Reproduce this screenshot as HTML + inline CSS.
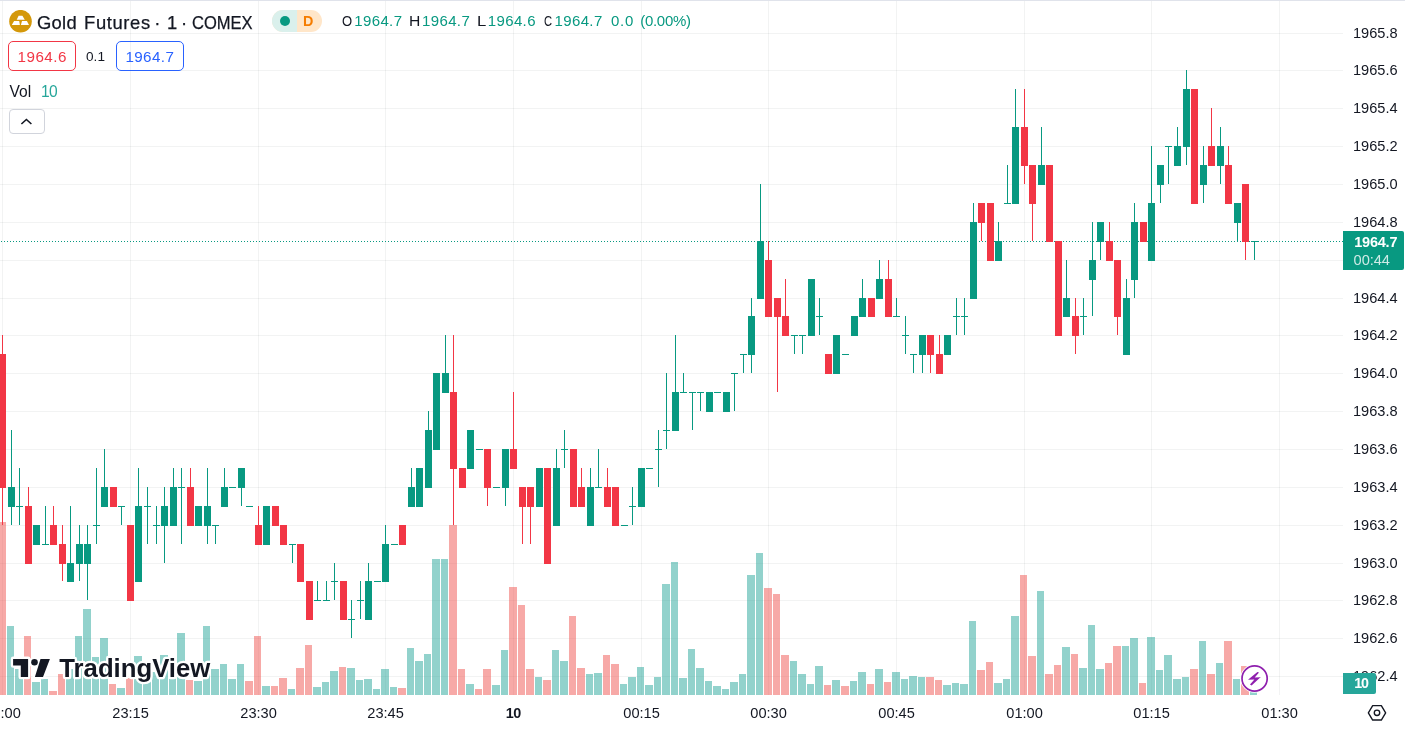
<!DOCTYPE html>
<html><head><meta charset="utf-8"><title>Gold Futures</title>
<style>
html,body{margin:0;padding:0;background:#fff}
body{width:1405px;height:731px;position:relative;overflow:hidden;font-family:"Liberation Sans",sans-serif;color:#131722}
.abs{position:absolute}
.t{position:absolute;white-space:pre}
</style></head><body>
<svg width="1405" height="731" viewBox="0 0 1405 731" style="position:absolute;left:0;top:0" shape-rendering="crispEdges"><g fill="rgba(42,46,57,0.06)"><rect x="2" y="1" width="1" height="694"/><rect x="130" y="1" width="1" height="694"/><rect x="258" y="1" width="1" height="694"/><rect x="385" y="1" width="1" height="694"/><rect x="513" y="1" width="1" height="694"/><rect x="641" y="1" width="1" height="694"/><rect x="768" y="1" width="1" height="694"/><rect x="896" y="1" width="1" height="694"/><rect x="1024" y="1" width="1" height="694"/><rect x="1151" y="1" width="1" height="694"/><rect x="1279" y="1" width="1" height="694"/><rect x="0" y="33" width="1343" height="1"/><rect x="0" y="70" width="1343" height="1"/><rect x="0" y="108" width="1343" height="1"/><rect x="0" y="146" width="1343" height="1"/><rect x="0" y="184" width="1343" height="1"/><rect x="0" y="222" width="1343" height="1"/><rect x="0" y="260" width="1343" height="1"/><rect x="0" y="298" width="1343" height="1"/><rect x="0" y="335" width="1343" height="1"/><rect x="0" y="373" width="1343" height="1"/><rect x="0" y="411" width="1343" height="1"/><rect x="0" y="449" width="1343" height="1"/><rect x="0" y="487" width="1343" height="1"/><rect x="0" y="525" width="1343" height="1"/><rect x="0" y="563" width="1343" height="1"/><rect x="0" y="600" width="1343" height="1"/><rect x="0" y="638" width="1343" height="1"/><rect x="0" y="676" width="1343" height="1"/></g><g fill="rgba(38,166,154,0.5)"><rect x="7" y="626" width="7" height="69"/><rect x="15" y="669" width="8" height="26"/><rect x="32" y="682" width="8" height="13"/><rect x="41" y="679" width="7" height="16"/><rect x="66" y="669" width="8" height="26"/><rect x="75" y="636" width="7" height="59"/><rect x="83" y="609" width="8" height="86"/><rect x="92" y="657" width="7" height="38"/><rect x="100" y="638" width="8" height="57"/><rect x="117" y="688" width="8" height="7"/><rect x="134" y="656" width="8" height="39"/><rect x="143" y="672" width="8" height="23"/><rect x="152" y="672" width="7" height="23"/><rect x="160" y="655" width="8" height="40"/><rect x="169" y="672" width="7" height="23"/><rect x="177" y="633" width="8" height="62"/><rect x="194" y="681" width="8" height="14"/><rect x="203" y="626" width="7" height="69"/><rect x="211" y="669" width="8" height="26"/><rect x="220" y="664" width="7" height="31"/><rect x="228" y="679" width="8" height="16"/><rect x="237" y="664" width="7" height="31"/><rect x="262" y="686" width="8" height="9"/><rect x="288" y="689" width="7" height="6"/><rect x="313" y="687" width="8" height="8"/><rect x="322" y="682" width="7" height="13"/><rect x="330" y="671" width="8" height="24"/><rect x="347" y="668" width="8" height="27"/><rect x="356" y="680" width="7" height="15"/><rect x="364" y="679" width="8" height="16"/><rect x="373" y="689" width="7" height="6"/><rect x="381" y="669" width="8" height="26"/><rect x="390" y="687" width="7" height="8"/><rect x="407" y="648" width="7" height="47"/><rect x="415" y="661" width="8" height="34"/><rect x="424" y="654" width="7" height="41"/><rect x="432" y="559" width="8" height="136"/><rect x="441" y="559" width="7" height="136"/><rect x="466" y="684" width="8" height="11"/><rect x="492" y="685" width="8" height="10"/><rect x="501" y="650" width="7" height="45"/><rect x="535" y="677" width="7" height="18"/><rect x="552" y="650" width="7" height="45"/><rect x="560" y="661" width="8" height="34"/><rect x="586" y="674" width="7" height="21"/><rect x="594" y="673" width="8" height="22"/><rect x="620" y="684" width="7" height="11"/><rect x="628" y="677" width="8" height="18"/><rect x="637" y="667" width="7" height="28"/><rect x="645" y="685" width="8" height="10"/><rect x="654" y="677" width="7" height="18"/><rect x="662" y="584" width="8" height="111"/><rect x="671" y="562" width="7" height="133"/><rect x="679" y="678" width="8" height="17"/><rect x="688" y="649" width="7" height="46"/><rect x="696" y="668" width="8" height="27"/><rect x="705" y="681" width="7" height="14"/><rect x="713" y="686" width="8" height="9"/><rect x="722" y="689" width="7" height="6"/><rect x="730" y="682" width="8" height="13"/><rect x="739" y="674" width="7" height="21"/><rect x="747" y="575" width="8" height="120"/><rect x="756" y="553" width="7" height="142"/><rect x="790" y="661" width="7" height="34"/><rect x="798" y="674" width="8" height="21"/><rect x="807" y="684" width="7" height="11"/><rect x="815" y="666" width="8" height="29"/><rect x="832" y="680" width="8" height="15"/><rect x="850" y="681" width="7" height="14"/><rect x="858" y="672" width="8" height="23"/><rect x="875" y="669" width="8" height="26"/><rect x="892" y="672" width="8" height="23"/><rect x="901" y="679" width="7" height="16"/><rect x="909" y="676" width="8" height="19"/><rect x="918" y="677" width="7" height="18"/><rect x="943" y="685" width="8" height="10"/><rect x="952" y="683" width="7" height="12"/><rect x="960" y="684" width="8" height="11"/><rect x="969" y="621" width="7" height="74"/><rect x="994" y="683" width="8" height="12"/><rect x="1003" y="679" width="7" height="16"/><rect x="1011" y="616" width="8" height="79"/><rect x="1037" y="591" width="7" height="104"/><rect x="1062" y="647" width="8" height="48"/><rect x="1079" y="668" width="8" height="27"/><rect x="1088" y="625" width="7" height="70"/><rect x="1096" y="669" width="8" height="26"/><rect x="1122" y="646" width="7" height="49"/><rect x="1130" y="638" width="8" height="57"/><rect x="1147" y="637" width="8" height="58"/><rect x="1156" y="670" width="7" height="25"/><rect x="1164" y="655" width="8" height="40"/><rect x="1173" y="679" width="8" height="16"/><rect x="1182" y="677" width="7" height="18"/><rect x="1199" y="641" width="7" height="54"/><rect x="1216" y="663" width="7" height="32"/><rect x="1233" y="679" width="7" height="16"/><rect x="1250" y="683" width="7" height="12"/></g><g fill="rgba(239,83,80,0.5)"><rect x="0" y="522" width="6" height="173"/><rect x="24" y="636" width="7" height="59"/><rect x="49" y="691" width="8" height="4"/><rect x="58" y="674" width="7" height="21"/><rect x="109" y="684" width="7" height="11"/><rect x="126" y="678" width="7" height="17"/><rect x="186" y="680" width="7" height="15"/><rect x="245" y="681" width="8" height="14"/><rect x="254" y="636" width="7" height="59"/><rect x="271" y="686" width="7" height="9"/><rect x="279" y="678" width="8" height="17"/><rect x="296" y="668" width="8" height="27"/><rect x="305" y="645" width="7" height="50"/><rect x="339" y="667" width="7" height="28"/><rect x="398" y="688" width="8" height="7"/><rect x="449" y="525" width="8" height="170"/><rect x="458" y="669" width="7" height="26"/><rect x="475" y="689" width="7" height="6"/><rect x="483" y="669" width="8" height="26"/><rect x="509" y="587" width="8" height="108"/><rect x="518" y="605" width="7" height="90"/><rect x="526" y="669" width="8" height="26"/><rect x="543" y="680" width="8" height="15"/><rect x="569" y="616" width="7" height="79"/><rect x="577" y="668" width="8" height="27"/><rect x="603" y="655" width="7" height="40"/><rect x="611" y="664" width="8" height="31"/><rect x="764" y="588" width="8" height="107"/><rect x="773" y="594" width="7" height="101"/><rect x="781" y="655" width="8" height="40"/><rect x="824" y="685" width="7" height="10"/><rect x="841" y="686" width="8" height="9"/><rect x="867" y="684" width="7" height="11"/><rect x="884" y="682" width="7" height="13"/><rect x="926" y="677" width="8" height="18"/><rect x="935" y="680" width="7" height="15"/><rect x="977" y="670" width="8" height="25"/><rect x="986" y="662" width="7" height="33"/><rect x="1020" y="575" width="7" height="120"/><rect x="1028" y="656" width="8" height="39"/><rect x="1045" y="674" width="8" height="21"/><rect x="1054" y="665" width="7" height="30"/><rect x="1071" y="654" width="7" height="41"/><rect x="1105" y="663" width="7" height="32"/><rect x="1113" y="646" width="8" height="49"/><rect x="1139" y="683" width="7" height="12"/><rect x="1190" y="669" width="8" height="26"/><rect x="1207" y="674" width="8" height="21"/><rect x="1224" y="641" width="8" height="54"/><rect x="1241" y="666" width="8" height="29"/></g><g fill="#089981"><rect x="1" y="241" width="1" height="1"/><rect x="4" y="241" width="1" height="1"/><rect x="7" y="241" width="1" height="1"/><rect x="10" y="241" width="1" height="1"/><rect x="13" y="241" width="1" height="1"/><rect x="16" y="241" width="1" height="1"/><rect x="19" y="241" width="1" height="1"/><rect x="22" y="241" width="1" height="1"/><rect x="25" y="241" width="1" height="1"/><rect x="28" y="241" width="1" height="1"/><rect x="31" y="241" width="1" height="1"/><rect x="34" y="241" width="1" height="1"/><rect x="37" y="241" width="1" height="1"/><rect x="40" y="241" width="1" height="1"/><rect x="43" y="241" width="1" height="1"/><rect x="46" y="241" width="1" height="1"/><rect x="49" y="241" width="1" height="1"/><rect x="52" y="241" width="1" height="1"/><rect x="55" y="241" width="1" height="1"/><rect x="58" y="241" width="1" height="1"/><rect x="61" y="241" width="1" height="1"/><rect x="64" y="241" width="1" height="1"/><rect x="67" y="241" width="1" height="1"/><rect x="70" y="241" width="1" height="1"/><rect x="73" y="241" width="1" height="1"/><rect x="76" y="241" width="1" height="1"/><rect x="79" y="241" width="1" height="1"/><rect x="82" y="241" width="1" height="1"/><rect x="85" y="241" width="1" height="1"/><rect x="88" y="241" width="1" height="1"/><rect x="91" y="241" width="1" height="1"/><rect x="94" y="241" width="1" height="1"/><rect x="97" y="241" width="1" height="1"/><rect x="100" y="241" width="1" height="1"/><rect x="103" y="241" width="1" height="1"/><rect x="106" y="241" width="1" height="1"/><rect x="109" y="241" width="1" height="1"/><rect x="112" y="241" width="1" height="1"/><rect x="115" y="241" width="1" height="1"/><rect x="118" y="241" width="1" height="1"/><rect x="121" y="241" width="1" height="1"/><rect x="124" y="241" width="1" height="1"/><rect x="127" y="241" width="1" height="1"/><rect x="130" y="241" width="1" height="1"/><rect x="133" y="241" width="1" height="1"/><rect x="136" y="241" width="1" height="1"/><rect x="139" y="241" width="1" height="1"/><rect x="142" y="241" width="1" height="1"/><rect x="145" y="241" width="1" height="1"/><rect x="148" y="241" width="1" height="1"/><rect x="151" y="241" width="1" height="1"/><rect x="154" y="241" width="1" height="1"/><rect x="157" y="241" width="1" height="1"/><rect x="160" y="241" width="1" height="1"/><rect x="163" y="241" width="1" height="1"/><rect x="166" y="241" width="1" height="1"/><rect x="169" y="241" width="1" height="1"/><rect x="172" y="241" width="1" height="1"/><rect x="175" y="241" width="1" height="1"/><rect x="178" y="241" width="1" height="1"/><rect x="181" y="241" width="1" height="1"/><rect x="184" y="241" width="1" height="1"/><rect x="187" y="241" width="1" height="1"/><rect x="190" y="241" width="1" height="1"/><rect x="193" y="241" width="1" height="1"/><rect x="196" y="241" width="1" height="1"/><rect x="199" y="241" width="1" height="1"/><rect x="202" y="241" width="1" height="1"/><rect x="205" y="241" width="1" height="1"/><rect x="208" y="241" width="1" height="1"/><rect x="211" y="241" width="1" height="1"/><rect x="214" y="241" width="1" height="1"/><rect x="217" y="241" width="1" height="1"/><rect x="220" y="241" width="1" height="1"/><rect x="223" y="241" width="1" height="1"/><rect x="226" y="241" width="1" height="1"/><rect x="229" y="241" width="1" height="1"/><rect x="232" y="241" width="1" height="1"/><rect x="235" y="241" width="1" height="1"/><rect x="238" y="241" width="1" height="1"/><rect x="241" y="241" width="1" height="1"/><rect x="244" y="241" width="1" height="1"/><rect x="247" y="241" width="1" height="1"/><rect x="250" y="241" width="1" height="1"/><rect x="253" y="241" width="1" height="1"/><rect x="256" y="241" width="1" height="1"/><rect x="259" y="241" width="1" height="1"/><rect x="262" y="241" width="1" height="1"/><rect x="265" y="241" width="1" height="1"/><rect x="268" y="241" width="1" height="1"/><rect x="271" y="241" width="1" height="1"/><rect x="274" y="241" width="1" height="1"/><rect x="277" y="241" width="1" height="1"/><rect x="280" y="241" width="1" height="1"/><rect x="283" y="241" width="1" height="1"/><rect x="286" y="241" width="1" height="1"/><rect x="289" y="241" width="1" height="1"/><rect x="292" y="241" width="1" height="1"/><rect x="295" y="241" width="1" height="1"/><rect x="298" y="241" width="1" height="1"/><rect x="301" y="241" width="1" height="1"/><rect x="304" y="241" width="1" height="1"/><rect x="307" y="241" width="1" height="1"/><rect x="310" y="241" width="1" height="1"/><rect x="313" y="241" width="1" height="1"/><rect x="316" y="241" width="1" height="1"/><rect x="319" y="241" width="1" height="1"/><rect x="322" y="241" width="1" height="1"/><rect x="325" y="241" width="1" height="1"/><rect x="328" y="241" width="1" height="1"/><rect x="331" y="241" width="1" height="1"/><rect x="334" y="241" width="1" height="1"/><rect x="337" y="241" width="1" height="1"/><rect x="340" y="241" width="1" height="1"/><rect x="343" y="241" width="1" height="1"/><rect x="346" y="241" width="1" height="1"/><rect x="349" y="241" width="1" height="1"/><rect x="352" y="241" width="1" height="1"/><rect x="355" y="241" width="1" height="1"/><rect x="358" y="241" width="1" height="1"/><rect x="361" y="241" width="1" height="1"/><rect x="364" y="241" width="1" height="1"/><rect x="367" y="241" width="1" height="1"/><rect x="370" y="241" width="1" height="1"/><rect x="373" y="241" width="1" height="1"/><rect x="376" y="241" width="1" height="1"/><rect x="379" y="241" width="1" height="1"/><rect x="382" y="241" width="1" height="1"/><rect x="385" y="241" width="1" height="1"/><rect x="388" y="241" width="1" height="1"/><rect x="391" y="241" width="1" height="1"/><rect x="394" y="241" width="1" height="1"/><rect x="397" y="241" width="1" height="1"/><rect x="400" y="241" width="1" height="1"/><rect x="403" y="241" width="1" height="1"/><rect x="406" y="241" width="1" height="1"/><rect x="409" y="241" width="1" height="1"/><rect x="412" y="241" width="1" height="1"/><rect x="415" y="241" width="1" height="1"/><rect x="418" y="241" width="1" height="1"/><rect x="421" y="241" width="1" height="1"/><rect x="424" y="241" width="1" height="1"/><rect x="427" y="241" width="1" height="1"/><rect x="430" y="241" width="1" height="1"/><rect x="433" y="241" width="1" height="1"/><rect x="436" y="241" width="1" height="1"/><rect x="439" y="241" width="1" height="1"/><rect x="442" y="241" width="1" height="1"/><rect x="445" y="241" width="1" height="1"/><rect x="448" y="241" width="1" height="1"/><rect x="451" y="241" width="1" height="1"/><rect x="454" y="241" width="1" height="1"/><rect x="457" y="241" width="1" height="1"/><rect x="460" y="241" width="1" height="1"/><rect x="463" y="241" width="1" height="1"/><rect x="466" y="241" width="1" height="1"/><rect x="469" y="241" width="1" height="1"/><rect x="472" y="241" width="1" height="1"/><rect x="475" y="241" width="1" height="1"/><rect x="478" y="241" width="1" height="1"/><rect x="481" y="241" width="1" height="1"/><rect x="484" y="241" width="1" height="1"/><rect x="487" y="241" width="1" height="1"/><rect x="490" y="241" width="1" height="1"/><rect x="493" y="241" width="1" height="1"/><rect x="496" y="241" width="1" height="1"/><rect x="499" y="241" width="1" height="1"/><rect x="502" y="241" width="1" height="1"/><rect x="505" y="241" width="1" height="1"/><rect x="508" y="241" width="1" height="1"/><rect x="511" y="241" width="1" height="1"/><rect x="514" y="241" width="1" height="1"/><rect x="517" y="241" width="1" height="1"/><rect x="520" y="241" width="1" height="1"/><rect x="523" y="241" width="1" height="1"/><rect x="526" y="241" width="1" height="1"/><rect x="529" y="241" width="1" height="1"/><rect x="532" y="241" width="1" height="1"/><rect x="535" y="241" width="1" height="1"/><rect x="538" y="241" width="1" height="1"/><rect x="541" y="241" width="1" height="1"/><rect x="544" y="241" width="1" height="1"/><rect x="547" y="241" width="1" height="1"/><rect x="550" y="241" width="1" height="1"/><rect x="553" y="241" width="1" height="1"/><rect x="556" y="241" width="1" height="1"/><rect x="559" y="241" width="1" height="1"/><rect x="562" y="241" width="1" height="1"/><rect x="565" y="241" width="1" height="1"/><rect x="568" y="241" width="1" height="1"/><rect x="571" y="241" width="1" height="1"/><rect x="574" y="241" width="1" height="1"/><rect x="577" y="241" width="1" height="1"/><rect x="580" y="241" width="1" height="1"/><rect x="583" y="241" width="1" height="1"/><rect x="586" y="241" width="1" height="1"/><rect x="589" y="241" width="1" height="1"/><rect x="592" y="241" width="1" height="1"/><rect x="595" y="241" width="1" height="1"/><rect x="598" y="241" width="1" height="1"/><rect x="601" y="241" width="1" height="1"/><rect x="604" y="241" width="1" height="1"/><rect x="607" y="241" width="1" height="1"/><rect x="610" y="241" width="1" height="1"/><rect x="613" y="241" width="1" height="1"/><rect x="616" y="241" width="1" height="1"/><rect x="619" y="241" width="1" height="1"/><rect x="622" y="241" width="1" height="1"/><rect x="625" y="241" width="1" height="1"/><rect x="628" y="241" width="1" height="1"/><rect x="631" y="241" width="1" height="1"/><rect x="634" y="241" width="1" height="1"/><rect x="637" y="241" width="1" height="1"/><rect x="640" y="241" width="1" height="1"/><rect x="643" y="241" width="1" height="1"/><rect x="646" y="241" width="1" height="1"/><rect x="649" y="241" width="1" height="1"/><rect x="652" y="241" width="1" height="1"/><rect x="655" y="241" width="1" height="1"/><rect x="658" y="241" width="1" height="1"/><rect x="661" y="241" width="1" height="1"/><rect x="664" y="241" width="1" height="1"/><rect x="667" y="241" width="1" height="1"/><rect x="670" y="241" width="1" height="1"/><rect x="673" y="241" width="1" height="1"/><rect x="676" y="241" width="1" height="1"/><rect x="679" y="241" width="1" height="1"/><rect x="682" y="241" width="1" height="1"/><rect x="685" y="241" width="1" height="1"/><rect x="688" y="241" width="1" height="1"/><rect x="691" y="241" width="1" height="1"/><rect x="694" y="241" width="1" height="1"/><rect x="697" y="241" width="1" height="1"/><rect x="700" y="241" width="1" height="1"/><rect x="703" y="241" width="1" height="1"/><rect x="706" y="241" width="1" height="1"/><rect x="709" y="241" width="1" height="1"/><rect x="712" y="241" width="1" height="1"/><rect x="715" y="241" width="1" height="1"/><rect x="718" y="241" width="1" height="1"/><rect x="721" y="241" width="1" height="1"/><rect x="724" y="241" width="1" height="1"/><rect x="727" y="241" width="1" height="1"/><rect x="730" y="241" width="1" height="1"/><rect x="733" y="241" width="1" height="1"/><rect x="736" y="241" width="1" height="1"/><rect x="739" y="241" width="1" height="1"/><rect x="742" y="241" width="1" height="1"/><rect x="745" y="241" width="1" height="1"/><rect x="748" y="241" width="1" height="1"/><rect x="751" y="241" width="1" height="1"/><rect x="754" y="241" width="1" height="1"/><rect x="757" y="241" width="1" height="1"/><rect x="760" y="241" width="1" height="1"/><rect x="763" y="241" width="1" height="1"/><rect x="766" y="241" width="1" height="1"/><rect x="769" y="241" width="1" height="1"/><rect x="772" y="241" width="1" height="1"/><rect x="775" y="241" width="1" height="1"/><rect x="778" y="241" width="1" height="1"/><rect x="781" y="241" width="1" height="1"/><rect x="784" y="241" width="1" height="1"/><rect x="787" y="241" width="1" height="1"/><rect x="790" y="241" width="1" height="1"/><rect x="793" y="241" width="1" height="1"/><rect x="796" y="241" width="1" height="1"/><rect x="799" y="241" width="1" height="1"/><rect x="802" y="241" width="1" height="1"/><rect x="805" y="241" width="1" height="1"/><rect x="808" y="241" width="1" height="1"/><rect x="811" y="241" width="1" height="1"/><rect x="814" y="241" width="1" height="1"/><rect x="817" y="241" width="1" height="1"/><rect x="820" y="241" width="1" height="1"/><rect x="823" y="241" width="1" height="1"/><rect x="826" y="241" width="1" height="1"/><rect x="829" y="241" width="1" height="1"/><rect x="832" y="241" width="1" height="1"/><rect x="835" y="241" width="1" height="1"/><rect x="838" y="241" width="1" height="1"/><rect x="841" y="241" width="1" height="1"/><rect x="844" y="241" width="1" height="1"/><rect x="847" y="241" width="1" height="1"/><rect x="850" y="241" width="1" height="1"/><rect x="853" y="241" width="1" height="1"/><rect x="856" y="241" width="1" height="1"/><rect x="859" y="241" width="1" height="1"/><rect x="862" y="241" width="1" height="1"/><rect x="865" y="241" width="1" height="1"/><rect x="868" y="241" width="1" height="1"/><rect x="871" y="241" width="1" height="1"/><rect x="874" y="241" width="1" height="1"/><rect x="877" y="241" width="1" height="1"/><rect x="880" y="241" width="1" height="1"/><rect x="883" y="241" width="1" height="1"/><rect x="886" y="241" width="1" height="1"/><rect x="889" y="241" width="1" height="1"/><rect x="892" y="241" width="1" height="1"/><rect x="895" y="241" width="1" height="1"/><rect x="898" y="241" width="1" height="1"/><rect x="901" y="241" width="1" height="1"/><rect x="904" y="241" width="1" height="1"/><rect x="907" y="241" width="1" height="1"/><rect x="910" y="241" width="1" height="1"/><rect x="913" y="241" width="1" height="1"/><rect x="916" y="241" width="1" height="1"/><rect x="919" y="241" width="1" height="1"/><rect x="922" y="241" width="1" height="1"/><rect x="925" y="241" width="1" height="1"/><rect x="928" y="241" width="1" height="1"/><rect x="931" y="241" width="1" height="1"/><rect x="934" y="241" width="1" height="1"/><rect x="937" y="241" width="1" height="1"/><rect x="940" y="241" width="1" height="1"/><rect x="943" y="241" width="1" height="1"/><rect x="946" y="241" width="1" height="1"/><rect x="949" y="241" width="1" height="1"/><rect x="952" y="241" width="1" height="1"/><rect x="955" y="241" width="1" height="1"/><rect x="958" y="241" width="1" height="1"/><rect x="961" y="241" width="1" height="1"/><rect x="964" y="241" width="1" height="1"/><rect x="967" y="241" width="1" height="1"/><rect x="970" y="241" width="1" height="1"/><rect x="973" y="241" width="1" height="1"/><rect x="976" y="241" width="1" height="1"/><rect x="979" y="241" width="1" height="1"/><rect x="982" y="241" width="1" height="1"/><rect x="985" y="241" width="1" height="1"/><rect x="988" y="241" width="1" height="1"/><rect x="991" y="241" width="1" height="1"/><rect x="994" y="241" width="1" height="1"/><rect x="997" y="241" width="1" height="1"/><rect x="1000" y="241" width="1" height="1"/><rect x="1003" y="241" width="1" height="1"/><rect x="1006" y="241" width="1" height="1"/><rect x="1009" y="241" width="1" height="1"/><rect x="1012" y="241" width="1" height="1"/><rect x="1015" y="241" width="1" height="1"/><rect x="1018" y="241" width="1" height="1"/><rect x="1021" y="241" width="1" height="1"/><rect x="1024" y="241" width="1" height="1"/><rect x="1027" y="241" width="1" height="1"/><rect x="1030" y="241" width="1" height="1"/><rect x="1033" y="241" width="1" height="1"/><rect x="1036" y="241" width="1" height="1"/><rect x="1039" y="241" width="1" height="1"/><rect x="1042" y="241" width="1" height="1"/><rect x="1045" y="241" width="1" height="1"/><rect x="1048" y="241" width="1" height="1"/><rect x="1051" y="241" width="1" height="1"/><rect x="1054" y="241" width="1" height="1"/><rect x="1057" y="241" width="1" height="1"/><rect x="1060" y="241" width="1" height="1"/><rect x="1063" y="241" width="1" height="1"/><rect x="1066" y="241" width="1" height="1"/><rect x="1069" y="241" width="1" height="1"/><rect x="1072" y="241" width="1" height="1"/><rect x="1075" y="241" width="1" height="1"/><rect x="1078" y="241" width="1" height="1"/><rect x="1081" y="241" width="1" height="1"/><rect x="1084" y="241" width="1" height="1"/><rect x="1087" y="241" width="1" height="1"/><rect x="1090" y="241" width="1" height="1"/><rect x="1093" y="241" width="1" height="1"/><rect x="1096" y="241" width="1" height="1"/><rect x="1099" y="241" width="1" height="1"/><rect x="1102" y="241" width="1" height="1"/><rect x="1105" y="241" width="1" height="1"/><rect x="1108" y="241" width="1" height="1"/><rect x="1111" y="241" width="1" height="1"/><rect x="1114" y="241" width="1" height="1"/><rect x="1117" y="241" width="1" height="1"/><rect x="1120" y="241" width="1" height="1"/><rect x="1123" y="241" width="1" height="1"/><rect x="1126" y="241" width="1" height="1"/><rect x="1129" y="241" width="1" height="1"/><rect x="1132" y="241" width="1" height="1"/><rect x="1135" y="241" width="1" height="1"/><rect x="1138" y="241" width="1" height="1"/><rect x="1141" y="241" width="1" height="1"/><rect x="1144" y="241" width="1" height="1"/><rect x="1147" y="241" width="1" height="1"/><rect x="1150" y="241" width="1" height="1"/><rect x="1153" y="241" width="1" height="1"/><rect x="1156" y="241" width="1" height="1"/><rect x="1159" y="241" width="1" height="1"/><rect x="1162" y="241" width="1" height="1"/><rect x="1165" y="241" width="1" height="1"/><rect x="1168" y="241" width="1" height="1"/><rect x="1171" y="241" width="1" height="1"/><rect x="1174" y="241" width="1" height="1"/><rect x="1177" y="241" width="1" height="1"/><rect x="1180" y="241" width="1" height="1"/><rect x="1183" y="241" width="1" height="1"/><rect x="1186" y="241" width="1" height="1"/><rect x="1189" y="241" width="1" height="1"/><rect x="1192" y="241" width="1" height="1"/><rect x="1195" y="241" width="1" height="1"/><rect x="1198" y="241" width="1" height="1"/><rect x="1201" y="241" width="1" height="1"/><rect x="1204" y="241" width="1" height="1"/><rect x="1207" y="241" width="1" height="1"/><rect x="1210" y="241" width="1" height="1"/><rect x="1213" y="241" width="1" height="1"/><rect x="1216" y="241" width="1" height="1"/><rect x="1219" y="241" width="1" height="1"/><rect x="1222" y="241" width="1" height="1"/><rect x="1225" y="241" width="1" height="1"/><rect x="1228" y="241" width="1" height="1"/><rect x="1231" y="241" width="1" height="1"/><rect x="1234" y="241" width="1" height="1"/><rect x="1237" y="241" width="1" height="1"/><rect x="1240" y="241" width="1" height="1"/><rect x="1243" y="241" width="1" height="1"/><rect x="1246" y="241" width="1" height="1"/><rect x="1249" y="241" width="1" height="1"/><rect x="1252" y="241" width="1" height="1"/><rect x="1255" y="241" width="1" height="1"/><rect x="1258" y="241" width="1" height="1"/><rect x="1261" y="241" width="1" height="1"/><rect x="1264" y="241" width="1" height="1"/><rect x="1267" y="241" width="1" height="1"/><rect x="1270" y="241" width="1" height="1"/><rect x="1273" y="241" width="1" height="1"/><rect x="1276" y="241" width="1" height="1"/><rect x="1279" y="241" width="1" height="1"/><rect x="1282" y="241" width="1" height="1"/><rect x="1285" y="241" width="1" height="1"/><rect x="1288" y="241" width="1" height="1"/><rect x="1291" y="241" width="1" height="1"/><rect x="1294" y="241" width="1" height="1"/><rect x="1297" y="241" width="1" height="1"/><rect x="1300" y="241" width="1" height="1"/><rect x="1303" y="241" width="1" height="1"/><rect x="1306" y="241" width="1" height="1"/><rect x="1309" y="241" width="1" height="1"/><rect x="1312" y="241" width="1" height="1"/><rect x="1315" y="241" width="1" height="1"/><rect x="1318" y="241" width="1" height="1"/><rect x="1321" y="241" width="1" height="1"/><rect x="1324" y="241" width="1" height="1"/><rect x="1327" y="241" width="1" height="1"/><rect x="1330" y="241" width="1" height="1"/><rect x="1333" y="241" width="1" height="1"/><rect x="1336" y="241" width="1" height="1"/><rect x="1339" y="241" width="1" height="1"/><rect x="1342" y="241" width="1" height="1"/></g><g fill="#089981"><rect x="11" y="430" width="1" height="95"/><rect x="8" y="487" width="7" height="20"/><rect x="19" y="468" width="1" height="57"/><rect x="16" y="506" width="7" height="1"/><rect x="36" y="525" width="1" height="19"/><rect x="33" y="525" width="7" height="20"/><rect x="45" y="506" width="1" height="38"/><rect x="42" y="544" width="7" height="1"/><rect x="70" y="506" width="1" height="75"/><rect x="67" y="563" width="7" height="19"/><rect x="79" y="525" width="1" height="56"/><rect x="76" y="544" width="7" height="20"/><rect x="87" y="525" width="1" height="75"/><rect x="84" y="544" width="7" height="20"/><rect x="96" y="468" width="1" height="76"/><rect x="93" y="525" width="7" height="1"/><rect x="104" y="449" width="1" height="57"/><rect x="101" y="487" width="7" height="20"/><rect x="121" y="506" width="1" height="19"/><rect x="118" y="506" width="7" height="1"/><rect x="138" y="468" width="1" height="113"/><rect x="135" y="506" width="7" height="76"/><rect x="147" y="487" width="1" height="57"/><rect x="144" y="506" width="7" height="1"/><rect x="156" y="506" width="1" height="38"/><rect x="153" y="525" width="7" height="1"/><rect x="164" y="487" width="1" height="76"/><rect x="161" y="506" width="7" height="20"/><rect x="173" y="468" width="1" height="57"/><rect x="170" y="487" width="7" height="39"/><rect x="181" y="468" width="1" height="76"/><rect x="178" y="487" width="7" height="1"/><rect x="198" y="506" width="1" height="19"/><rect x="195" y="506" width="7" height="20"/><rect x="207" y="468" width="1" height="76"/><rect x="204" y="506" width="7" height="20"/><rect x="215" y="525" width="1" height="19"/><rect x="212" y="525" width="7" height="1"/><rect x="224" y="468" width="1" height="38"/><rect x="221" y="487" width="7" height="20"/><rect x="229" y="487" width="7" height="1"/><rect x="241" y="468" width="1" height="38"/><rect x="238" y="468" width="7" height="20"/><rect x="246" y="506" width="7" height="1"/><rect x="266" y="506" width="1" height="38"/><rect x="263" y="506" width="7" height="39"/><rect x="292" y="544" width="1" height="19"/><rect x="289" y="544" width="7" height="1"/><rect x="317" y="581" width="1" height="19"/><rect x="314" y="600" width="7" height="1"/><rect x="326" y="581" width="1" height="19"/><rect x="323" y="600" width="7" height="1"/><rect x="334" y="563" width="1" height="37"/><rect x="331" y="581" width="7" height="1"/><rect x="351" y="600" width="1" height="38"/><rect x="348" y="619" width="7" height="1"/><rect x="360" y="581" width="1" height="38"/><rect x="357" y="600" width="7" height="1"/><rect x="368" y="563" width="1" height="56"/><rect x="365" y="581" width="7" height="39"/><rect x="374" y="581" width="7" height="1"/><rect x="385" y="525" width="1" height="56"/><rect x="382" y="544" width="7" height="38"/><rect x="391" y="544" width="7" height="1"/><rect x="411" y="468" width="1" height="38"/><rect x="408" y="487" width="7" height="20"/><rect x="419" y="468" width="1" height="38"/><rect x="416" y="468" width="7" height="39"/><rect x="428" y="411" width="1" height="76"/><rect x="425" y="430" width="7" height="58"/><rect x="436" y="373" width="1" height="76"/><rect x="433" y="373" width="7" height="77"/><rect x="445" y="335" width="1" height="57"/><rect x="442" y="373" width="7" height="20"/><rect x="470" y="430" width="1" height="38"/><rect x="467" y="430" width="7" height="39"/><rect x="476" y="449" width="7" height="1"/><rect x="493" y="487" width="7" height="1"/><rect x="505" y="449" width="1" height="57"/><rect x="502" y="449" width="7" height="39"/><rect x="539" y="468" width="1" height="38"/><rect x="536" y="468" width="7" height="39"/><rect x="556" y="449" width="1" height="76"/><rect x="553" y="468" width="7" height="58"/><rect x="564" y="430" width="1" height="38"/><rect x="561" y="449" width="7" height="1"/><rect x="590" y="468" width="1" height="57"/><rect x="587" y="487" width="7" height="39"/><rect x="598" y="449" width="1" height="38"/><rect x="595" y="487" width="7" height="1"/><rect x="621" y="525" width="7" height="1"/><rect x="632" y="487" width="1" height="38"/><rect x="629" y="506" width="7" height="1"/><rect x="641" y="468" width="1" height="38"/><rect x="638" y="468" width="7" height="39"/><rect x="646" y="468" width="7" height="1"/><rect x="658" y="430" width="1" height="57"/><rect x="655" y="449" width="7" height="1"/><rect x="666" y="373" width="1" height="76"/><rect x="663" y="430" width="7" height="1"/><rect x="675" y="335" width="1" height="95"/><rect x="672" y="392" width="7" height="39"/><rect x="683" y="373" width="1" height="19"/><rect x="680" y="392" width="7" height="1"/><rect x="692" y="392" width="1" height="38"/><rect x="689" y="392" width="7" height="1"/><rect x="700" y="392" width="1" height="19"/><rect x="697" y="392" width="7" height="1"/><rect x="709" y="392" width="1" height="19"/><rect x="706" y="392" width="7" height="20"/><rect x="714" y="392" width="7" height="1"/><rect x="726" y="392" width="1" height="19"/><rect x="723" y="392" width="7" height="20"/><rect x="734" y="373" width="1" height="38"/><rect x="731" y="373" width="7" height="1"/><rect x="743" y="354" width="1" height="19"/><rect x="740" y="354" width="7" height="1"/><rect x="751" y="298" width="1" height="75"/><rect x="748" y="316" width="7" height="39"/><rect x="760" y="184" width="1" height="114"/><rect x="757" y="241" width="7" height="58"/><rect x="794" y="335" width="1" height="19"/><rect x="791" y="335" width="7" height="1"/><rect x="802" y="335" width="1" height="19"/><rect x="799" y="335" width="7" height="1"/><rect x="811" y="279" width="1" height="56"/><rect x="808" y="279" width="7" height="57"/><rect x="819" y="298" width="1" height="37"/><rect x="816" y="316" width="7" height="1"/><rect x="836" y="335" width="1" height="38"/><rect x="833" y="335" width="7" height="39"/><rect x="842" y="354" width="7" height="1"/><rect x="854" y="316" width="1" height="19"/><rect x="851" y="316" width="7" height="20"/><rect x="862" y="279" width="1" height="37"/><rect x="859" y="298" width="7" height="19"/><rect x="879" y="260" width="1" height="38"/><rect x="876" y="279" width="7" height="20"/><rect x="896" y="298" width="1" height="18"/><rect x="893" y="316" width="7" height="1"/><rect x="905" y="316" width="1" height="38"/><rect x="902" y="335" width="7" height="1"/><rect x="913" y="354" width="1" height="19"/><rect x="910" y="354" width="7" height="1"/><rect x="922" y="335" width="1" height="38"/><rect x="919" y="335" width="7" height="20"/><rect x="947" y="335" width="1" height="19"/><rect x="944" y="335" width="7" height="20"/><rect x="956" y="298" width="1" height="37"/><rect x="953" y="316" width="7" height="1"/><rect x="964" y="298" width="1" height="37"/><rect x="961" y="316" width="7" height="1"/><rect x="973" y="203" width="1" height="95"/><rect x="970" y="222" width="7" height="77"/><rect x="998" y="222" width="1" height="38"/><rect x="995" y="241" width="7" height="20"/><rect x="1007" y="165" width="1" height="38"/><rect x="1004" y="203" width="7" height="1"/><rect x="1015" y="89" width="1" height="114"/><rect x="1012" y="127" width="7" height="77"/><rect x="1041" y="127" width="1" height="57"/><rect x="1038" y="165" width="7" height="20"/><rect x="1066" y="260" width="1" height="56"/><rect x="1063" y="298" width="7" height="19"/><rect x="1083" y="298" width="1" height="37"/><rect x="1080" y="316" width="7" height="1"/><rect x="1092" y="222" width="1" height="94"/><rect x="1089" y="260" width="7" height="20"/><rect x="1100" y="222" width="1" height="38"/><rect x="1097" y="222" width="7" height="20"/><rect x="1126" y="279" width="1" height="75"/><rect x="1123" y="298" width="7" height="57"/><rect x="1134" y="203" width="1" height="95"/><rect x="1131" y="222" width="7" height="58"/><rect x="1151" y="146" width="1" height="114"/><rect x="1148" y="203" width="7" height="58"/><rect x="1160" y="165" width="1" height="38"/><rect x="1157" y="165" width="7" height="20"/><rect x="1168" y="146" width="1" height="38"/><rect x="1165" y="146" width="7" height="1"/><rect x="1177" y="127" width="1" height="38"/><rect x="1174" y="146" width="7" height="20"/><rect x="1186" y="70" width="1" height="95"/><rect x="1183" y="89" width="7" height="58"/><rect x="1203" y="146" width="1" height="57"/><rect x="1200" y="165" width="7" height="20"/><rect x="1220" y="127" width="1" height="57"/><rect x="1217" y="146" width="7" height="20"/><rect x="1237" y="203" width="1" height="38"/><rect x="1234" y="203" width="7" height="20"/><rect x="1254" y="241" width="1" height="19"/><rect x="1251" y="241" width="7" height="1"/></g><g fill="#f23645"><rect x="2" y="335" width="1" height="190"/><rect x="-1" y="354" width="7" height="134"/><rect x="28" y="487" width="1" height="76"/><rect x="25" y="506" width="7" height="58"/><rect x="53" y="506" width="1" height="38"/><rect x="50" y="525" width="7" height="20"/><rect x="62" y="525" width="1" height="56"/><rect x="59" y="544" width="7" height="20"/><rect x="113" y="487" width="1" height="19"/><rect x="110" y="487" width="7" height="20"/><rect x="130" y="525" width="1" height="75"/><rect x="127" y="525" width="7" height="76"/><rect x="190" y="468" width="1" height="57"/><rect x="187" y="487" width="7" height="39"/><rect x="258" y="506" width="1" height="38"/><rect x="255" y="525" width="7" height="20"/><rect x="275" y="506" width="1" height="19"/><rect x="272" y="506" width="7" height="20"/><rect x="283" y="525" width="1" height="19"/><rect x="280" y="525" width="7" height="20"/><rect x="300" y="544" width="1" height="37"/><rect x="297" y="544" width="7" height="38"/><rect x="309" y="581" width="1" height="38"/><rect x="306" y="581" width="7" height="39"/><rect x="343" y="581" width="1" height="38"/><rect x="340" y="581" width="7" height="39"/><rect x="402" y="525" width="1" height="19"/><rect x="399" y="525" width="7" height="20"/><rect x="453" y="335" width="1" height="190"/><rect x="450" y="392" width="7" height="77"/><rect x="462" y="468" width="1" height="19"/><rect x="459" y="468" width="7" height="20"/><rect x="487" y="449" width="1" height="57"/><rect x="484" y="449" width="7" height="39"/><rect x="513" y="392" width="1" height="76"/><rect x="510" y="449" width="7" height="20"/><rect x="522" y="487" width="1" height="57"/><rect x="519" y="487" width="7" height="20"/><rect x="530" y="487" width="1" height="57"/><rect x="527" y="487" width="7" height="20"/><rect x="547" y="468" width="1" height="95"/><rect x="544" y="468" width="7" height="96"/><rect x="573" y="449" width="1" height="57"/><rect x="570" y="449" width="7" height="58"/><rect x="581" y="468" width="1" height="38"/><rect x="578" y="487" width="7" height="20"/><rect x="607" y="468" width="1" height="38"/><rect x="604" y="487" width="7" height="20"/><rect x="615" y="487" width="1" height="38"/><rect x="612" y="487" width="7" height="39"/><rect x="768" y="241" width="1" height="75"/><rect x="765" y="260" width="7" height="57"/><rect x="777" y="298" width="1" height="94"/><rect x="774" y="298" width="7" height="19"/><rect x="785" y="279" width="1" height="56"/><rect x="782" y="316" width="7" height="20"/><rect x="828" y="354" width="1" height="19"/><rect x="825" y="354" width="7" height="20"/><rect x="871" y="298" width="1" height="18"/><rect x="868" y="298" width="7" height="19"/><rect x="888" y="260" width="1" height="56"/><rect x="885" y="279" width="7" height="38"/><rect x="930" y="335" width="1" height="38"/><rect x="927" y="335" width="7" height="20"/><rect x="939" y="335" width="1" height="38"/><rect x="936" y="354" width="7" height="20"/><rect x="981" y="203" width="1" height="38"/><rect x="978" y="203" width="7" height="20"/><rect x="990" y="203" width="1" height="57"/><rect x="987" y="203" width="7" height="58"/><rect x="1024" y="89" width="1" height="95"/><rect x="1021" y="127" width="7" height="39"/><rect x="1032" y="165" width="1" height="76"/><rect x="1029" y="165" width="7" height="39"/><rect x="1049" y="165" width="1" height="76"/><rect x="1046" y="165" width="7" height="77"/><rect x="1058" y="241" width="1" height="94"/><rect x="1055" y="241" width="7" height="95"/><rect x="1075" y="298" width="1" height="56"/><rect x="1072" y="316" width="7" height="20"/><rect x="1109" y="222" width="1" height="38"/><rect x="1106" y="241" width="7" height="20"/><rect x="1117" y="260" width="1" height="75"/><rect x="1114" y="260" width="7" height="57"/><rect x="1143" y="222" width="1" height="19"/><rect x="1140" y="222" width="7" height="20"/><rect x="1194" y="89" width="1" height="114"/><rect x="1191" y="89" width="7" height="115"/><rect x="1211" y="108" width="1" height="57"/><rect x="1208" y="146" width="7" height="20"/><rect x="1228" y="146" width="1" height="57"/><rect x="1225" y="165" width="7" height="39"/><rect x="1245" y="184" width="1" height="76"/><rect x="1242" y="184" width="7" height="58"/></g></svg>
<div class="abs" style="left:0;top:0;width:1405px;height:1px;background:#e0e3eb"></div>
<div class="t" style="left:1353.23px;top:22px;font-size:15.1px;line-height:21px;height:21px;transform:scaleX(0.9671);transform-origin:0 0">1965.8</div><div class="t" style="left:1353.23px;top:59px;font-size:15.1px;line-height:21px;height:21px;transform:scaleX(0.9671);transform-origin:0 0">1965.6</div><div class="t" style="left:1353.23px;top:97px;font-size:15.1px;line-height:21px;height:21px;transform:scaleX(0.9671);transform-origin:0 0">1965.4</div><div class="t" style="left:1353.23px;top:135px;font-size:15.1px;line-height:21px;height:21px;transform:scaleX(0.9671);transform-origin:0 0">1965.2</div><div class="t" style="left:1353.23px;top:173px;font-size:15.1px;line-height:21px;height:21px;transform:scaleX(0.9671);transform-origin:0 0">1965.0</div><div class="t" style="left:1353.23px;top:211px;font-size:15.1px;line-height:21px;height:21px;transform:scaleX(0.9671);transform-origin:0 0">1964.8</div><div class="t" style="left:1353.23px;top:249px;font-size:15.1px;line-height:21px;height:21px;transform:scaleX(0.9671);transform-origin:0 0">1964.6</div><div class="t" style="left:1353.23px;top:287px;font-size:15.1px;line-height:21px;height:21px;transform:scaleX(0.9671);transform-origin:0 0">1964.4</div><div class="t" style="left:1353.23px;top:324px;font-size:15.1px;line-height:21px;height:21px;transform:scaleX(0.9671);transform-origin:0 0">1964.2</div><div class="t" style="left:1353.23px;top:362px;font-size:15.1px;line-height:21px;height:21px;transform:scaleX(0.9671);transform-origin:0 0">1964.0</div><div class="t" style="left:1353.23px;top:400px;font-size:15.1px;line-height:21px;height:21px;transform:scaleX(0.9671);transform-origin:0 0">1963.8</div><div class="t" style="left:1353.23px;top:438px;font-size:15.1px;line-height:21px;height:21px;transform:scaleX(0.9671);transform-origin:0 0">1963.6</div><div class="t" style="left:1353.23px;top:476px;font-size:15.1px;line-height:21px;height:21px;transform:scaleX(0.9671);transform-origin:0 0">1963.4</div><div class="t" style="left:1353.23px;top:514px;font-size:15.1px;line-height:21px;height:21px;transform:scaleX(0.9671);transform-origin:0 0">1963.2</div><div class="t" style="left:1353.23px;top:552px;font-size:15.1px;line-height:21px;height:21px;transform:scaleX(0.9671);transform-origin:0 0">1963.0</div><div class="t" style="left:1353.23px;top:589px;font-size:15.1px;line-height:21px;height:21px;transform:scaleX(0.9671);transform-origin:0 0">1962.8</div><div class="t" style="left:1353.23px;top:627px;font-size:15.1px;line-height:21px;height:21px;transform:scaleX(0.9671);transform-origin:0 0">1962.6</div><div class="t" style="left:1353.23px;top:665px;font-size:15.1px;line-height:21px;height:21px;transform:scaleX(0.9671);transform-origin:0 0">1962.4</div><div class="t" style="left:-15.70px;top:703px;font-size:14.6px;line-height:20px;height:20px;letter-spacing:-0.001px">23:00</div><div class="t" style="left:112.30px;top:703px;font-size:14.6px;line-height:20px;height:20px;letter-spacing:-0.001px">23:15</div><div class="t" style="left:240.30px;top:703px;font-size:14.6px;line-height:20px;height:20px;letter-spacing:-0.001px">23:30</div><div class="t" style="left:367.30px;top:703px;font-size:14.6px;line-height:20px;height:20px;letter-spacing:-0.001px">23:45</div><div class="t" style="left:505.80px;top:703px;font-size:14.4px;line-height:20px;height:20px;letter-spacing:-0.603px;font-weight:700">10</div><div class="t" style="left:623.30px;top:703px;font-size:14.6px;line-height:20px;height:20px;letter-spacing:-0.001px">00:15</div><div class="t" style="left:750.30px;top:703px;font-size:14.6px;line-height:20px;height:20px;letter-spacing:-0.001px">00:30</div><div class="t" style="left:878.30px;top:703px;font-size:14.6px;line-height:20px;height:20px;letter-spacing:-0.001px">00:45</div><div class="t" style="left:1006.30px;top:703px;font-size:14.6px;line-height:20px;height:20px;letter-spacing:-0.001px">01:00</div><div class="t" style="left:1133.30px;top:703px;font-size:14.6px;line-height:20px;height:20px;letter-spacing:-0.001px">01:15</div><div class="t" style="left:1261.30px;top:703px;font-size:14.6px;line-height:20px;height:20px;letter-spacing:-0.001px">01:30</div>
<!-- price label + volume label boxes -->
<div class="abs" style="left:1343px;top:231px;width:61px;height:39px;background:#089981;border-radius:0 2px 2px 0"></div>
<div class="abs" style="left:1343px;top:673px;width:33px;height:21px;background:#26a69a;border-radius:0 2px 2px 0"></div>
<!-- symbol logo -->
<svg class="abs" style="left:9px;top:10px" width="23" height="23" viewBox="0 0 23 23"><circle cx="11.5" cy="11.2" r="11.3" fill="#d4980a"/><path d="M9.6 5.8h3.8l2.4 4H7.7zM5.1 10.9h5.1l0.7 4H2.8zM13 10.9h4.9l2.1 4h-8.1z" fill="#fff"/></svg>
<!-- status pill -->
<div class="abs" style="left:272px;top:10px;width:50px;height:22px;border-radius:11px;overflow:hidden;background:#ffe6c9"><div style="position:absolute;left:0;top:0;width:25px;height:22px;background:#daf0ec"></div><div style="position:absolute;left:8px;top:6px;width:10px;height:10px;border-radius:5px;background:#089981"></div></div>
<!-- bid/ask boxes -->
<div class="abs" style="left:8px;top:41px;width:66px;height:28px;border:1px solid #f23645;border-radius:5px"></div>
<div class="abs" style="left:116px;top:41px;width:66px;height:28px;border:1px solid #2962ff;border-radius:5px"></div>
<!-- collapse button -->
<div class="abs" style="left:9px;top:109px;width:34px;height:23px;border:1px solid #d1d4dc;border-radius:4px;background:#fff"></div>
<svg class="abs" style="left:9px;top:109px" width="36" height="25" viewBox="0 0 36 25"><path d="M12.4 15L17.4 10.5L22.4 15" fill="none" stroke="#131722" stroke-width="1.6"/></svg>
<div class="t" style="left:37.00px;top:10px;font-size:18.4px;line-height:25px;height:25px;letter-spacing:0.260px;-webkit-text-stroke:0.25px #131722">Gold</div><div class="t" style="left:84.10px;top:10px;font-size:18.4px;line-height:25px;height:25px;letter-spacing:0.608px;-webkit-text-stroke:0.25px #131722">Futures</div><div class="t" style="left:154.20px;top:10px;font-size:18.4px;line-height:25px;height:25px;letter-spacing:0.000px;-webkit-text-stroke:0.25px #131722">·</div><div class="t" style="left:167.00px;top:10px;font-size:18.4px;line-height:25px;height:25px;letter-spacing:0.000px;-webkit-text-stroke:0.25px #131722">1</div><div class="t" style="left:181.00px;top:10px;font-size:18.4px;line-height:25px;height:25px;letter-spacing:0.000px;-webkit-text-stroke:0.25px #131722">·</div><div class="t" style="left:192.40px;top:10px;font-size:18.4px;line-height:25px;height:25px;transform:scaleX(0.8992);transform-origin:0 0;-webkit-text-stroke:0.25px #131722">COMEX</div><div class="t" style="left:342.00px;top:10px;font-size:15.2px;line-height:21px;height:21px;transform:scaleX(0.8583);transform-origin:0 0">O</div><div class="t" style="left:354.35px;top:10px;font-size:15.0px;line-height:21px;height:21px;letter-spacing:0.353px;color:#089981">1964.7</div><div class="t" style="left:409.07px;top:10px;font-size:15.2px;line-height:21px;height:21px;transform:scaleX(1.0333);transform-origin:0 0">H</div><div class="t" style="left:422.10px;top:10px;font-size:15.0px;line-height:21px;height:21px;letter-spacing:0.353px;color:#089981">1964.7</div><div class="t" style="left:477.10px;top:10px;font-size:15.2px;line-height:21px;height:21px;transform:scaleX(1.1000);transform-origin:0 0">L</div><div class="t" style="left:487.85px;top:10px;font-size:15.0px;line-height:21px;height:21px;letter-spacing:0.353px;color:#089981">1964.6</div><div class="t" style="left:543.70px;top:10px;font-size:15.2px;line-height:21px;height:21px;transform:scaleX(0.7364);transform-origin:0 0">C</div><div class="t" style="left:554.60px;top:10px;font-size:15.0px;line-height:21px;height:21px;letter-spacing:0.353px;color:#089981">1964.7</div><div class="t" style="left:611.10px;top:10px;font-size:15.0px;line-height:21px;height:21px;letter-spacing:0.645px;color:#089981">0.0</div><div class="t" style="left:640.20px;top:10px;font-size:15.0px;line-height:21px;height:21px;letter-spacing:-0.288px;color:#089981">(0.00%)</div><div class="t" style="left:17.50px;top:46px;font-size:15.2px;line-height:21px;height:21px;letter-spacing:0.499px;color:#f23645">1964.6</div><div class="t" style="left:86.00px;top:47px;font-size:13.6px;line-height:19px;height:19px;letter-spacing:0.032px">0.1</div><div class="t" style="left:125.40px;top:46px;font-size:15.2px;line-height:21px;height:21px;letter-spacing:0.419px;color:#2962ff">1964.7</div><div class="t" style="left:9.40px;top:81px;font-size:15.6px;line-height:21px;height:21px;letter-spacing:0.094px">Vol</div><div class="t" style="left:40.90px;top:81px;font-size:15.6px;line-height:21px;height:21px;letter-spacing:-0.473px;color:#26a69a">10</div><div class="t" style="left:302.67px;top:10px;font-size:15.4px;line-height:21px;height:21px;transform:scaleX(0.9300);transform-origin:0 0;font-weight:700;color:#f57c00">D</div><div class="t" style="left:1354.20px;top:232px;font-size:14.5px;line-height:20px;height:20px;letter-spacing:-0.217px;font-weight:700;color:#fff">1964.7</div><div class="t" style="left:1353.60px;top:250px;font-size:14.6px;line-height:20px;height:20px;letter-spacing:-0.076px;color:rgba(255,255,255,0.8)">00:44</div><div class="t" style="left:1354.20px;top:673px;font-size:14.3px;line-height:20px;height:20px;letter-spacing:-1.251px;font-weight:700;color:#fff">10</div>
<!-- lightning -->
<svg class="abs" style="left:1240px;top:664px" width="30" height="30" viewBox="0 0 30 30"><circle cx="14.6" cy="14.5" r="14.3" fill="#fff"/><circle cx="14.6" cy="14.5" r="12.6" fill="#fff" stroke="#8f1fae" stroke-width="1.7"/><path d="M17.4 8L19 8.4L14.7 13.4L20.9 13.2L19.4 14.3L11.6 21.6L10 20.4L14.4 15.4L8 15.7L9.8 14.2z" fill="#8f1fae"/></svg>
<!-- settings hexagon -->
<svg class="abs" style="left:1365px;top:701px" width="24" height="24" viewBox="0 0 24 24"><g transform="translate(12 11.8) scale(0.94) translate(-12 -12)"><path d="M7.4 4.3h9.2l4.6 7.7l-4.6 7.7H7.4L2.8 12z" fill="none" stroke="#131722" stroke-width="1.45" stroke-linejoin="round"/><circle cx="12" cy="12" r="2.9" fill="none" stroke="#131722" stroke-width="1.45"/></g></svg>
<!-- TradingView logo -->
<svg class="abs" style="left:8px;top:650px" width="215" height="42" viewBox="0 0 215 42">
<g stroke="#fff" stroke-width="4.6" stroke-linejoin="round" fill="#fff"><path d="M20.1 27H12.8V15.5H5.1V8.9h15zM35 27h-8.1L32.5 8.9h9.4z"/><circle cx="26.5" cy="12.2" r="3.3"/></g>
<g fill="#131722"><path d="M20.1 27H12.8V15.5H5.1V8.9h15zM35 27h-8.1L32.5 8.9h9.4z"/><circle cx="26.5" cy="12.2" r="3.3"/></g>
<text x="51.3" y="27.1" font-family="Liberation Sans, sans-serif" font-weight="700" font-size="25.3" fill="#131722" stroke="#fff" stroke-width="4.6" stroke-linejoin="round" paint-order="stroke" textLength="151" lengthAdjust="spacingAndGlyphs">TradingView</text>
</svg>
</body></html>
